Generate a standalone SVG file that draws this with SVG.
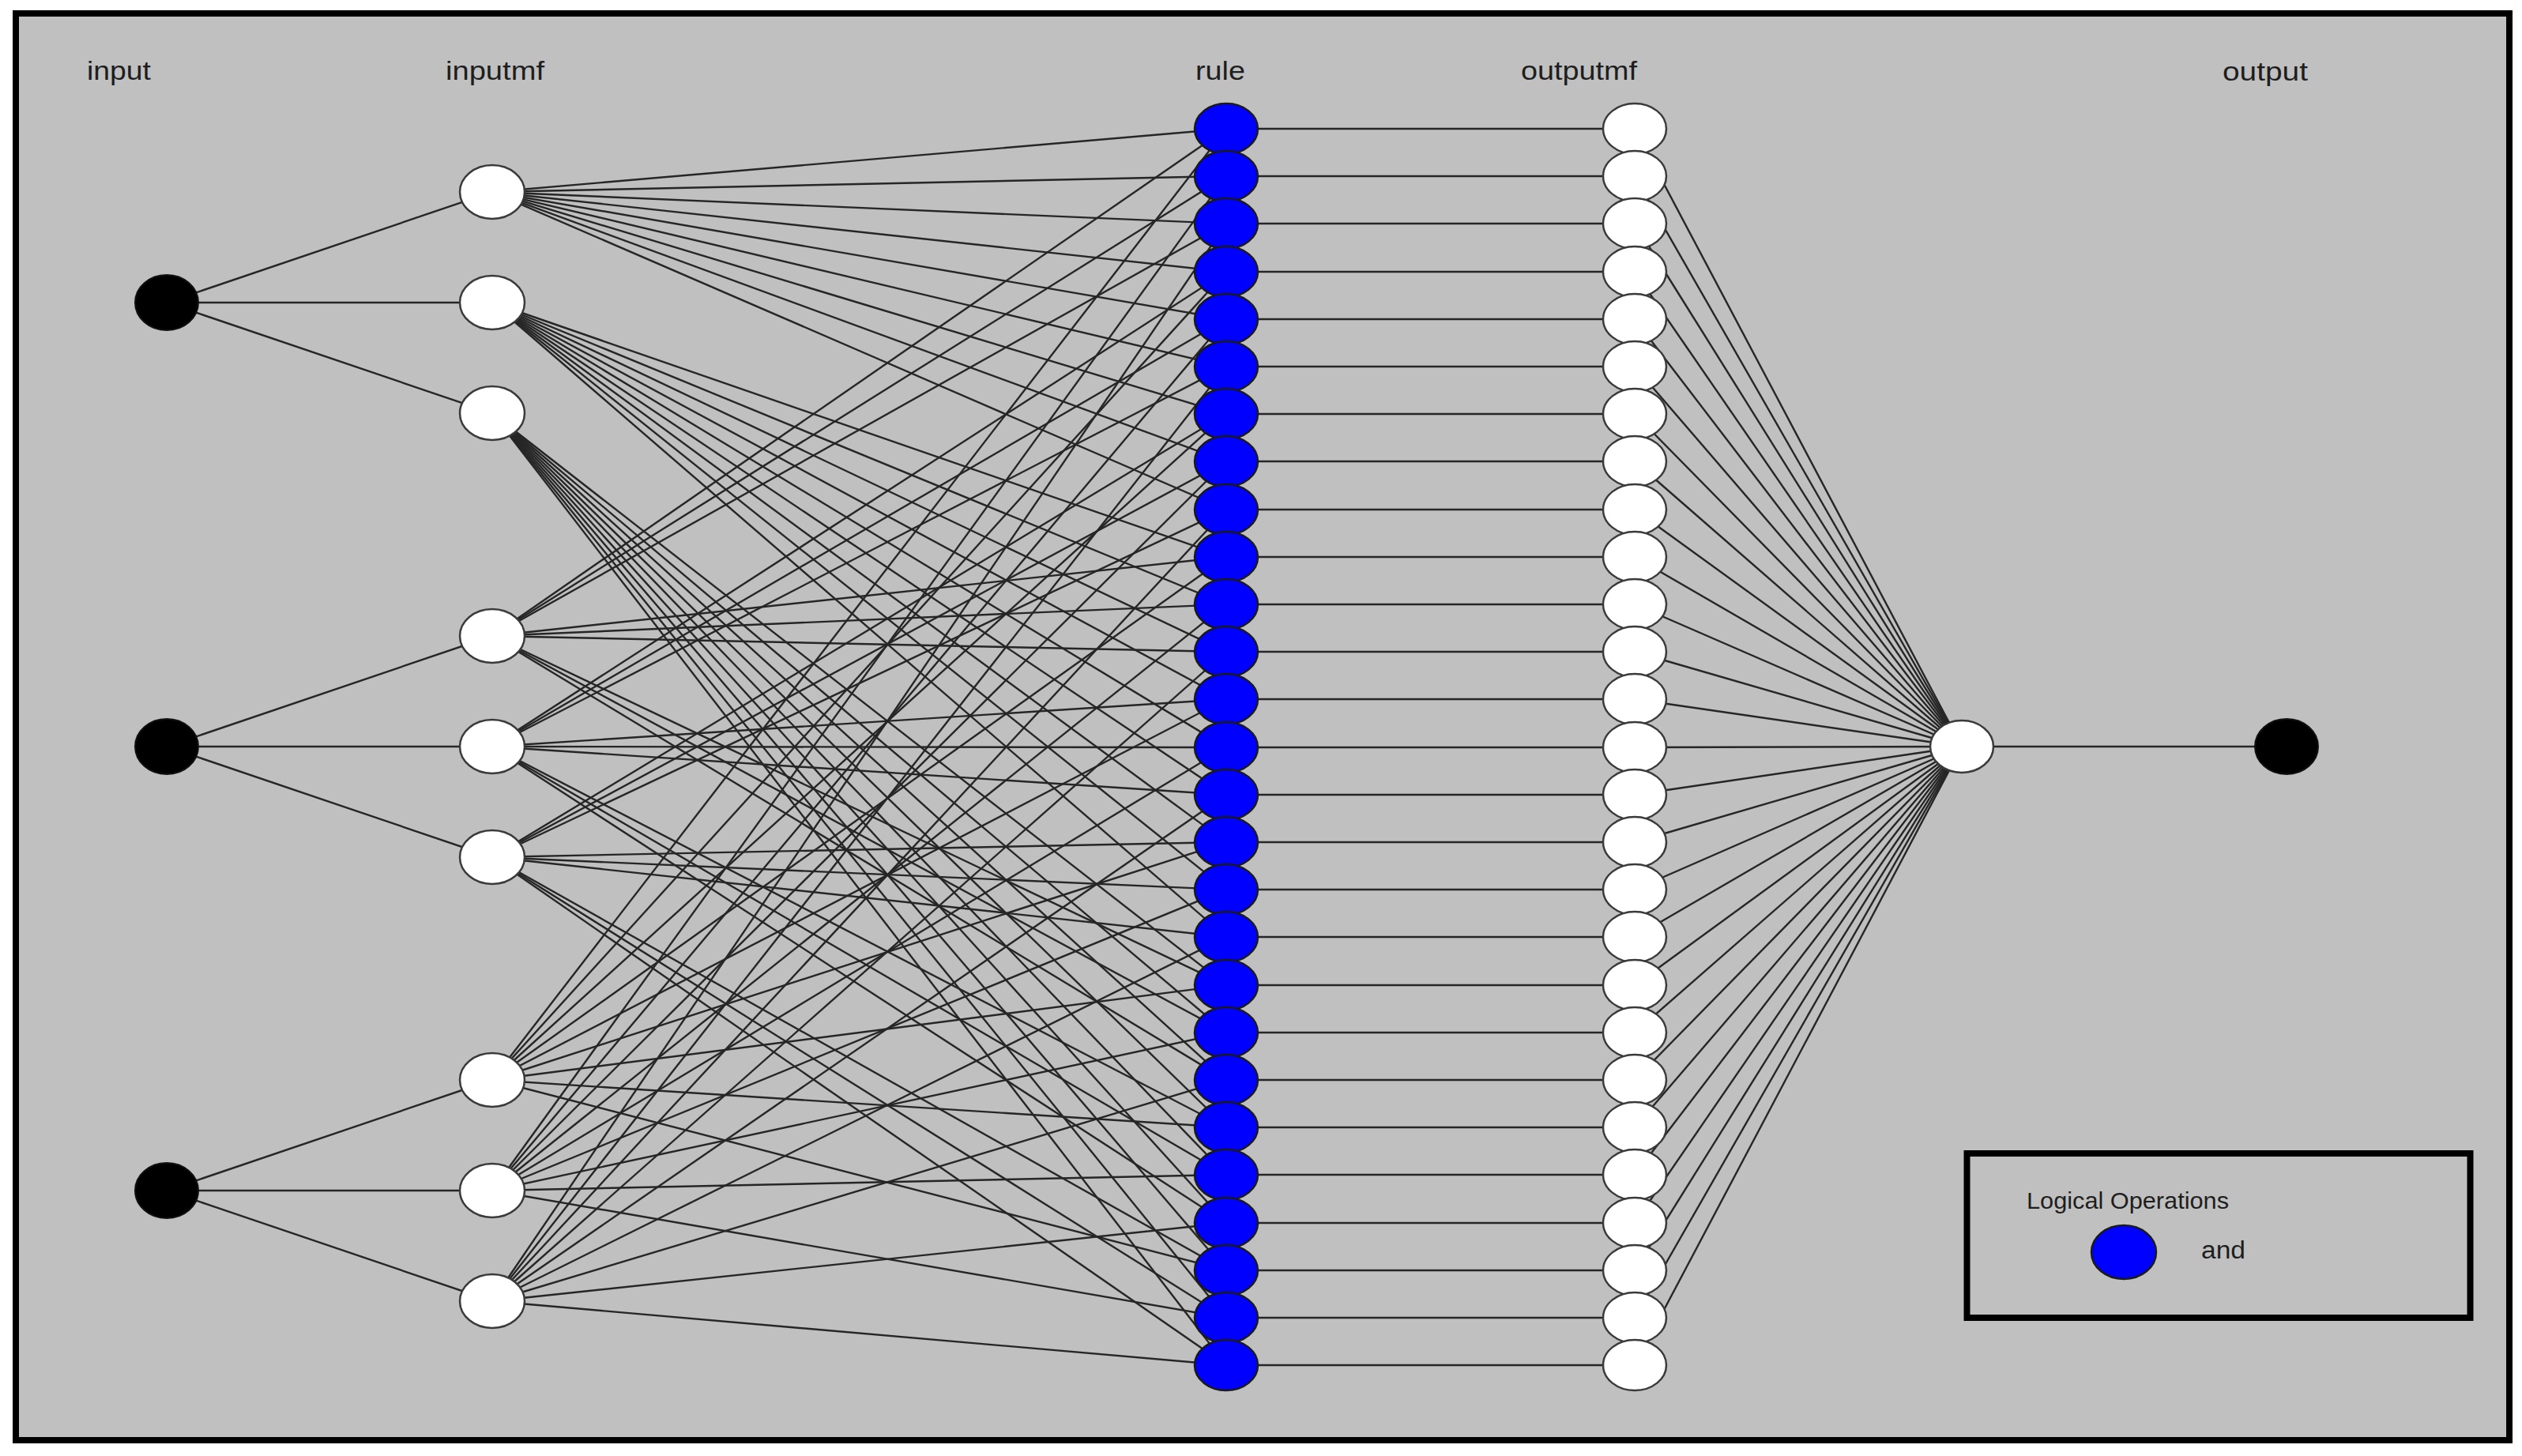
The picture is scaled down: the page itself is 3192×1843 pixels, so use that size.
<svg xmlns="http://www.w3.org/2000/svg" width="3192" height="1843" viewBox="0 0 3192 1843">
<style>
.bg{fill:#c0c0c0;stroke:#000;stroke-width:8}
.lg{fill:none;stroke:#000;stroke-width:8}
.c line{stroke:#262626;stroke-width:2.4}
.blk{fill:#000;stroke:#111;stroke-width:2}
.wht{fill:#fff;stroke:#3a3a3a;stroke-width:2.5}
.blu{fill:#0000ff;stroke:#1a1a1a;stroke-width:2.5}
.t{font-family:"Liberation Sans",Arial,sans-serif;fill:#1e1e1e}
.h{font-size:34px}
</style>
<rect width="3192" height="1843" fill="#fff"/>
<rect class="bg" x="20" y="17" width="3156" height="1806"/>
<g id="labels">
<text class="t h" x="110" y="101" textLength="81" lengthAdjust="spacingAndGlyphs">input</text>
<text class="t h" x="564" y="101" textLength="125" lengthAdjust="spacingAndGlyphs">inputmf</text>
<text class="t h" x="1513" y="101" textLength="63" lengthAdjust="spacingAndGlyphs">rule</text>
<text class="t h" x="1925" y="101" textLength="147" lengthAdjust="spacingAndGlyphs">outputmf</text>
<text class="t h" x="2813" y="102" textLength="108" lengthAdjust="spacingAndGlyphs">output</text>
</g>
<g id="connectors" class="c">
<line x1="211" y1="383" x2="623" y2="243"/>
<line x1="211" y1="383" x2="623" y2="383"/>
<line x1="211" y1="383" x2="623" y2="523"/>
<line x1="211" y1="945" x2="623" y2="805"/>
<line x1="211" y1="945" x2="623" y2="945"/>
<line x1="211" y1="945" x2="623" y2="1085"/>
<line x1="211" y1="1507" x2="623" y2="1367"/>
<line x1="211" y1="1507" x2="623" y2="1507"/>
<line x1="211" y1="1507" x2="623" y2="1647"/>
<line x1="623" y1="243" x2="1552" y2="163"/>
<line x1="623" y1="243" x2="1552" y2="223"/>
<line x1="623" y1="243" x2="1552" y2="283"/>
<line x1="623" y1="243" x2="1552" y2="344"/>
<line x1="623" y1="243" x2="1552" y2="404"/>
<line x1="623" y1="243" x2="1552" y2="464"/>
<line x1="623" y1="243" x2="1552" y2="524"/>
<line x1="623" y1="243" x2="1552" y2="584"/>
<line x1="623" y1="243" x2="1552" y2="645"/>
<line x1="623" y1="383" x2="1552" y2="705"/>
<line x1="623" y1="383" x2="1552" y2="765"/>
<line x1="623" y1="383" x2="1552" y2="825"/>
<line x1="623" y1="383" x2="1552" y2="885"/>
<line x1="623" y1="383" x2="1552" y2="946"/>
<line x1="623" y1="383" x2="1552" y2="1006"/>
<line x1="623" y1="383" x2="1552" y2="1066"/>
<line x1="623" y1="383" x2="1552" y2="1126"/>
<line x1="623" y1="383" x2="1552" y2="1186"/>
<line x1="623" y1="523" x2="1552" y2="1247"/>
<line x1="623" y1="523" x2="1552" y2="1307"/>
<line x1="623" y1="523" x2="1552" y2="1367"/>
<line x1="623" y1="523" x2="1552" y2="1427"/>
<line x1="623" y1="523" x2="1552" y2="1487"/>
<line x1="623" y1="523" x2="1552" y2="1548"/>
<line x1="623" y1="523" x2="1552" y2="1608"/>
<line x1="623" y1="523" x2="1552" y2="1668"/>
<line x1="623" y1="523" x2="1552" y2="1728"/>
<line x1="623" y1="805" x2="1552" y2="163"/>
<line x1="623" y1="805" x2="1552" y2="223"/>
<line x1="623" y1="805" x2="1552" y2="283"/>
<line x1="623" y1="805" x2="1552" y2="705"/>
<line x1="623" y1="805" x2="1552" y2="765"/>
<line x1="623" y1="805" x2="1552" y2="825"/>
<line x1="623" y1="805" x2="1552" y2="1247"/>
<line x1="623" y1="805" x2="1552" y2="1307"/>
<line x1="623" y1="805" x2="1552" y2="1367"/>
<line x1="623" y1="945" x2="1552" y2="344"/>
<line x1="623" y1="945" x2="1552" y2="404"/>
<line x1="623" y1="945" x2="1552" y2="464"/>
<line x1="623" y1="945" x2="1552" y2="885"/>
<line x1="623" y1="945" x2="1552" y2="946"/>
<line x1="623" y1="945" x2="1552" y2="1006"/>
<line x1="623" y1="945" x2="1552" y2="1427"/>
<line x1="623" y1="945" x2="1552" y2="1487"/>
<line x1="623" y1="945" x2="1552" y2="1548"/>
<line x1="623" y1="1085" x2="1552" y2="524"/>
<line x1="623" y1="1085" x2="1552" y2="584"/>
<line x1="623" y1="1085" x2="1552" y2="645"/>
<line x1="623" y1="1085" x2="1552" y2="1066"/>
<line x1="623" y1="1085" x2="1552" y2="1126"/>
<line x1="623" y1="1085" x2="1552" y2="1186"/>
<line x1="623" y1="1085" x2="1552" y2="1608"/>
<line x1="623" y1="1085" x2="1552" y2="1668"/>
<line x1="623" y1="1085" x2="1552" y2="1728"/>
<line x1="623" y1="1367" x2="1552" y2="163"/>
<line x1="623" y1="1367" x2="1552" y2="344"/>
<line x1="623" y1="1367" x2="1552" y2="524"/>
<line x1="623" y1="1367" x2="1552" y2="705"/>
<line x1="623" y1="1367" x2="1552" y2="885"/>
<line x1="623" y1="1367" x2="1552" y2="1066"/>
<line x1="623" y1="1367" x2="1552" y2="1247"/>
<line x1="623" y1="1367" x2="1552" y2="1427"/>
<line x1="623" y1="1367" x2="1552" y2="1608"/>
<line x1="623" y1="1507" x2="1552" y2="223"/>
<line x1="623" y1="1507" x2="1552" y2="404"/>
<line x1="623" y1="1507" x2="1552" y2="584"/>
<line x1="623" y1="1507" x2="1552" y2="765"/>
<line x1="623" y1="1507" x2="1552" y2="946"/>
<line x1="623" y1="1507" x2="1552" y2="1126"/>
<line x1="623" y1="1507" x2="1552" y2="1307"/>
<line x1="623" y1="1507" x2="1552" y2="1487"/>
<line x1="623" y1="1507" x2="1552" y2="1668"/>
<line x1="623" y1="1647" x2="1552" y2="283"/>
<line x1="623" y1="1647" x2="1552" y2="464"/>
<line x1="623" y1="1647" x2="1552" y2="645"/>
<line x1="623" y1="1647" x2="1552" y2="825"/>
<line x1="623" y1="1647" x2="1552" y2="1006"/>
<line x1="623" y1="1647" x2="1552" y2="1186"/>
<line x1="623" y1="1647" x2="1552" y2="1367"/>
<line x1="623" y1="1647" x2="1552" y2="1548"/>
<line x1="623" y1="1647" x2="1552" y2="1728"/>
<line x1="1552" y1="163" x2="2069" y2="163"/>
<line x1="1552" y1="223" x2="2069" y2="223"/>
<line x1="1552" y1="283" x2="2069" y2="283"/>
<line x1="1552" y1="344" x2="2069" y2="344"/>
<line x1="1552" y1="404" x2="2069" y2="404"/>
<line x1="1552" y1="464" x2="2069" y2="464"/>
<line x1="1552" y1="524" x2="2069" y2="524"/>
<line x1="1552" y1="584" x2="2069" y2="584"/>
<line x1="1552" y1="645" x2="2069" y2="645"/>
<line x1="1552" y1="705" x2="2069" y2="705"/>
<line x1="1552" y1="765" x2="2069" y2="765"/>
<line x1="1552" y1="825" x2="2069" y2="825"/>
<line x1="1552" y1="885" x2="2069" y2="885"/>
<line x1="1552" y1="946" x2="2069" y2="946"/>
<line x1="1552" y1="1006" x2="2069" y2="1006"/>
<line x1="1552" y1="1066" x2="2069" y2="1066"/>
<line x1="1552" y1="1126" x2="2069" y2="1126"/>
<line x1="1552" y1="1186" x2="2069" y2="1186"/>
<line x1="1552" y1="1247" x2="2069" y2="1247"/>
<line x1="1552" y1="1307" x2="2069" y2="1307"/>
<line x1="1552" y1="1367" x2="2069" y2="1367"/>
<line x1="1552" y1="1427" x2="2069" y2="1427"/>
<line x1="1552" y1="1487" x2="2069" y2="1487"/>
<line x1="1552" y1="1548" x2="2069" y2="1548"/>
<line x1="1552" y1="1608" x2="2069" y2="1608"/>
<line x1="1552" y1="1668" x2="2069" y2="1668"/>
<line x1="1552" y1="1728" x2="2069" y2="1728"/>
<line x1="2069" y1="163" x2="2483" y2="945"/>
<line x1="2069" y1="223" x2="2483" y2="945"/>
<line x1="2069" y1="283" x2="2483" y2="945"/>
<line x1="2069" y1="344" x2="2483" y2="945"/>
<line x1="2069" y1="404" x2="2483" y2="945"/>
<line x1="2069" y1="464" x2="2483" y2="945"/>
<line x1="2069" y1="524" x2="2483" y2="945"/>
<line x1="2069" y1="584" x2="2483" y2="945"/>
<line x1="2069" y1="645" x2="2483" y2="945"/>
<line x1="2069" y1="705" x2="2483" y2="945"/>
<line x1="2069" y1="765" x2="2483" y2="945"/>
<line x1="2069" y1="825" x2="2483" y2="945"/>
<line x1="2069" y1="885" x2="2483" y2="945"/>
<line x1="2069" y1="946" x2="2483" y2="945"/>
<line x1="2069" y1="1006" x2="2483" y2="945"/>
<line x1="2069" y1="1066" x2="2483" y2="945"/>
<line x1="2069" y1="1126" x2="2483" y2="945"/>
<line x1="2069" y1="1186" x2="2483" y2="945"/>
<line x1="2069" y1="1247" x2="2483" y2="945"/>
<line x1="2069" y1="1307" x2="2483" y2="945"/>
<line x1="2069" y1="1367" x2="2483" y2="945"/>
<line x1="2069" y1="1427" x2="2483" y2="945"/>
<line x1="2069" y1="1487" x2="2483" y2="945"/>
<line x1="2069" y1="1548" x2="2483" y2="945"/>
<line x1="2069" y1="1608" x2="2483" y2="945"/>
<line x1="2069" y1="1668" x2="2483" y2="945"/>
<line x1="2069" y1="1728" x2="2483" y2="945"/>
<line x1="2483" y1="945" x2="2894" y2="945"/>
</g>
<g id="input1"><ellipse class="blk" cx="211" cy="383" rx="40" ry="35"/></g>
<g id="input2"><ellipse class="blk" cx="211" cy="945" rx="40" ry="35"/></g>
<g id="input3"><ellipse class="blk" cx="211" cy="1507" rx="40" ry="35"/></g>
<g id="inputmf1"><ellipse class="wht" cx="623" cy="243" rx="41" ry="34"/></g>
<g id="inputmf2"><ellipse class="wht" cx="623" cy="383" rx="41" ry="34"/></g>
<g id="inputmf3"><ellipse class="wht" cx="623" cy="523" rx="41" ry="34"/></g>
<g id="inputmf4"><ellipse class="wht" cx="623" cy="805" rx="41" ry="34"/></g>
<g id="inputmf5"><ellipse class="wht" cx="623" cy="945" rx="41" ry="34"/></g>
<g id="inputmf6"><ellipse class="wht" cx="623" cy="1085" rx="41" ry="34"/></g>
<g id="inputmf7"><ellipse class="wht" cx="623" cy="1367" rx="41" ry="34"/></g>
<g id="inputmf8"><ellipse class="wht" cx="623" cy="1507" rx="41" ry="34"/></g>
<g id="inputmf9"><ellipse class="wht" cx="623" cy="1647" rx="41" ry="34"/></g>
<g id="rule1"><ellipse class="blu" cx="1552" cy="163" rx="40" ry="32"/></g>
<g id="rule2"><ellipse class="blu" cx="1552" cy="223" rx="40" ry="32"/></g>
<g id="rule3"><ellipse class="blu" cx="1552" cy="283" rx="40" ry="32"/></g>
<g id="rule4"><ellipse class="blu" cx="1552" cy="344" rx="40" ry="32"/></g>
<g id="rule5"><ellipse class="blu" cx="1552" cy="404" rx="40" ry="32"/></g>
<g id="rule6"><ellipse class="blu" cx="1552" cy="464" rx="40" ry="32"/></g>
<g id="rule7"><ellipse class="blu" cx="1552" cy="524" rx="40" ry="32"/></g>
<g id="rule8"><ellipse class="blu" cx="1552" cy="584" rx="40" ry="32"/></g>
<g id="rule9"><ellipse class="blu" cx="1552" cy="645" rx="40" ry="32"/></g>
<g id="rule10"><ellipse class="blu" cx="1552" cy="705" rx="40" ry="32"/></g>
<g id="rule11"><ellipse class="blu" cx="1552" cy="765" rx="40" ry="32"/></g>
<g id="rule12"><ellipse class="blu" cx="1552" cy="825" rx="40" ry="32"/></g>
<g id="rule13"><ellipse class="blu" cx="1552" cy="885" rx="40" ry="32"/></g>
<g id="rule14"><ellipse class="blu" cx="1552" cy="946" rx="40" ry="32"/></g>
<g id="rule15"><ellipse class="blu" cx="1552" cy="1006" rx="40" ry="32"/></g>
<g id="rule16"><ellipse class="blu" cx="1552" cy="1066" rx="40" ry="32"/></g>
<g id="rule17"><ellipse class="blu" cx="1552" cy="1126" rx="40" ry="32"/></g>
<g id="rule18"><ellipse class="blu" cx="1552" cy="1186" rx="40" ry="32"/></g>
<g id="rule19"><ellipse class="blu" cx="1552" cy="1247" rx="40" ry="32"/></g>
<g id="rule20"><ellipse class="blu" cx="1552" cy="1307" rx="40" ry="32"/></g>
<g id="rule21"><ellipse class="blu" cx="1552" cy="1367" rx="40" ry="32"/></g>
<g id="rule22"><ellipse class="blu" cx="1552" cy="1427" rx="40" ry="32"/></g>
<g id="rule23"><ellipse class="blu" cx="1552" cy="1487" rx="40" ry="32"/></g>
<g id="rule24"><ellipse class="blu" cx="1552" cy="1548" rx="40" ry="32"/></g>
<g id="rule25"><ellipse class="blu" cx="1552" cy="1608" rx="40" ry="32"/></g>
<g id="rule26"><ellipse class="blu" cx="1552" cy="1668" rx="40" ry="32"/></g>
<g id="rule27"><ellipse class="blu" cx="1552" cy="1728" rx="40" ry="32"/></g>
<g id="outputmf1"><ellipse class="wht" cx="2069" cy="163" rx="40" ry="32"/></g>
<g id="outputmf2"><ellipse class="wht" cx="2069" cy="223" rx="40" ry="32"/></g>
<g id="outputmf3"><ellipse class="wht" cx="2069" cy="283" rx="40" ry="32"/></g>
<g id="outputmf4"><ellipse class="wht" cx="2069" cy="344" rx="40" ry="32"/></g>
<g id="outputmf5"><ellipse class="wht" cx="2069" cy="404" rx="40" ry="32"/></g>
<g id="outputmf6"><ellipse class="wht" cx="2069" cy="464" rx="40" ry="32"/></g>
<g id="outputmf7"><ellipse class="wht" cx="2069" cy="524" rx="40" ry="32"/></g>
<g id="outputmf8"><ellipse class="wht" cx="2069" cy="584" rx="40" ry="32"/></g>
<g id="outputmf9"><ellipse class="wht" cx="2069" cy="645" rx="40" ry="32"/></g>
<g id="outputmf10"><ellipse class="wht" cx="2069" cy="705" rx="40" ry="32"/></g>
<g id="outputmf11"><ellipse class="wht" cx="2069" cy="765" rx="40" ry="32"/></g>
<g id="outputmf12"><ellipse class="wht" cx="2069" cy="825" rx="40" ry="32"/></g>
<g id="outputmf13"><ellipse class="wht" cx="2069" cy="885" rx="40" ry="32"/></g>
<g id="outputmf14"><ellipse class="wht" cx="2069" cy="946" rx="40" ry="32"/></g>
<g id="outputmf15"><ellipse class="wht" cx="2069" cy="1006" rx="40" ry="32"/></g>
<g id="outputmf16"><ellipse class="wht" cx="2069" cy="1066" rx="40" ry="32"/></g>
<g id="outputmf17"><ellipse class="wht" cx="2069" cy="1126" rx="40" ry="32"/></g>
<g id="outputmf18"><ellipse class="wht" cx="2069" cy="1186" rx="40" ry="32"/></g>
<g id="outputmf19"><ellipse class="wht" cx="2069" cy="1247" rx="40" ry="32"/></g>
<g id="outputmf20"><ellipse class="wht" cx="2069" cy="1307" rx="40" ry="32"/></g>
<g id="outputmf21"><ellipse class="wht" cx="2069" cy="1367" rx="40" ry="32"/></g>
<g id="outputmf22"><ellipse class="wht" cx="2069" cy="1427" rx="40" ry="32"/></g>
<g id="outputmf23"><ellipse class="wht" cx="2069" cy="1487" rx="40" ry="32"/></g>
<g id="outputmf24"><ellipse class="wht" cx="2069" cy="1548" rx="40" ry="32"/></g>
<g id="outputmf25"><ellipse class="wht" cx="2069" cy="1608" rx="40" ry="32"/></g>
<g id="outputmf26"><ellipse class="wht" cx="2069" cy="1668" rx="40" ry="32"/></g>
<g id="outputmf27"><ellipse class="wht" cx="2069" cy="1728" rx="40" ry="32"/></g>
<g id="aggregate"><ellipse class="wht" cx="2483" cy="945" rx="40" ry="33"/></g>
<g id="output1"><ellipse class="blk" cx="2894" cy="945" rx="40" ry="35"/></g>
<g id="legend">
<rect class="lg" x="2489.5" y="1460" width="637" height="208"/>
<text class="t" x="2565" y="1530" font-size="30" textLength="256" lengthAdjust="spacingAndGlyphs">Logical Operations</text>
<ellipse class="blu" cx="2688" cy="1585" rx="41" ry="34"/>
<text class="t" x="2786" y="1593" font-size="31" textLength="56" lengthAdjust="spacingAndGlyphs">and</text>
</g>
</svg>
